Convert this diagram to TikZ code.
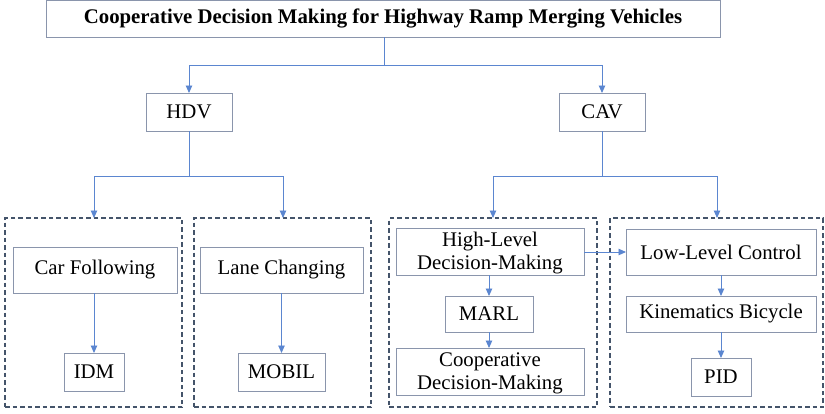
\documentclass[tikz,border=0pt]{standalone}
\usepackage{fontspec}
\setmainfont{Liberation Serif}
\usetikzlibrary{arrows.meta,calc}
\definecolor{linkblue}{HTML}{5B86D0}
\definecolor{boxedge}{HTML}{8A95AC}
\definecolor{groupedge}{HTML}{44546A}
\tikzset{
  every node/.style={inner sep=0pt, outer sep=0pt},
  plainbox/.style={draw=boxedge, line width=0.9pt, anchor=north west, align=center,
    font=\fontsize{20.8}{24}\selectfont},
  groupbox/.style={draw=groupedge, line width=1.3pt, dash pattern=on 4.5pt off 3pt, anchor=north west},
  link/.style={draw=linkblue, line width=0.9pt},
  tiplink/.style={link, -{Triangle[width=6.5pt,length=7.5pt]}},
}
\newcommand{\boxat}[6]{% name, x, y, width, height, text
  \node[plainbox, minimum width=#4pt, minimum height=#5pt] (#1) at (#2,#3) {#6};}
\begin{document}
\begin{tikzpicture}[x=1pt, y=-1pt]
\useasboundingbox (0,0) rectangle (825,413);

% heading
\node[plainbox, minimum width=674pt, minimum height=37pt, font=\bfseries\fontsize{20.8}{24}\selectfont]
  (title) at (46,0) {Cooperative Decision Making for Highway Ramp Merging Vehicles};

% vehicle classes
\boxat{hdv}{146}{93}{86}{38}{HDV}
\boxat{cav}{559}{93}{86}{38}{CAV}

% dashed groups
\node[groupbox, minimum width=177pt, minimum height=189pt] (g1) at (5,218) {};
\node[groupbox, minimum width=177pt, minimum height=189pt] (g2) at (194,218) {};
\node[groupbox, minimum width=208pt, minimum height=189pt] (g3) at (389,218) {};
\node[groupbox, minimum width=213pt, minimum height=189pt] (g4) at (610,218) {};

% HDV models
\boxat{cf}{13}{247}{164}{46}{Car Following}
\boxat{idm}{64}{353}{60}{38}{IDM}
\boxat{lc}{200}{247}{163}{46}{Lane Changing}
\boxat{mobil}{238}{353}{87}{38}{MOBIL}

% CAV decision chain
\boxat{hl}{396}{228}{188}{47}{\strut High-Level\\[-1pt]Decision-Making}
\boxat{marl}{445}{296}{88}{36}{MARL}
\boxat{coop}{396}{348}{188}{47}{\strut Cooperative\\[-1pt]Decision-Making}

% CAV control chain
\boxat{llc}{626}{229}{190}{46}{Low-Level Control}
\boxat{kin}{626}{296}{190}{36}{Kinematics Bicycle}
\boxat{pid}{691}{358}{60}{38}{PID}

% tree connectors
\coordinate (j0) at (384,65);
\coordinate (j1) at ($(hdv.south)+(0,45)$);
\coordinate (j2) at ($(cav.south)+(0,45)$);
\draw[link] (title.south -| j0) -- (j0);
\draw[tiplink] (j0) -| (hdv.north);
\draw[tiplink] (j0) -| (cav.north);
\draw[link] (hdv.south) -- (j1);
\draw[tiplink] (j1) -| ($(g1.north west)+(89,0)$);
\draw[tiplink] (j1) -| ($(g2.north west)+(89,0)$);
\draw[link] (cav.south) -- (j2);
\draw[tiplink] (j2) -| ($(g3.north west)+(104,0)$);
\draw[tiplink] (j2) -| ($(g4.north west)+(107,0)$);

% chain connectors
\draw[tiplink] (cf.south -| idm.north) -- (idm.north);
\draw[tiplink] (lc.south -| mobil.north) -- (mobil.north);
\draw[tiplink] (hl.south -| marl.north) -- (marl.north);
\draw[tiplink] (marl.south) -- (coop.north -| marl.south);
\draw[tiplink] (hl.east |- llc.west) -- (llc.west);
\draw[tiplink] (llc.south -| kin.north) -- (kin.north);
\draw[tiplink] (kin.south -| pid.north) -- (pid.north);
\end{tikzpicture}
\end{document}
